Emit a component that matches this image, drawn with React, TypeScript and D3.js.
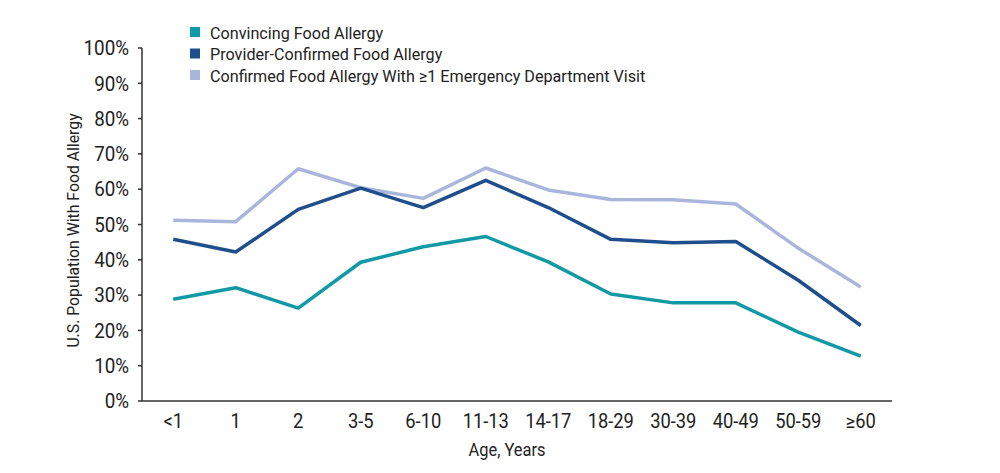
import React from "react";
import * as d3 from "d3";

const ageGroups = ["<1", "1", "2", "3-5", "6-10", "11-13", "14-17", "18-29", "30-39", "40-49", "50-59", "≥60"];

const convincing = [28.8, 32.1, 26.3, 39.3, 43.7, 46.6, 39.4, 30.3, 27.8, 27.8, 19.5, 12.7];
const providerConfirmed = [45.8, 42.2, 54.3, 60.3, 54.8, 62.5, 54.8, 45.8, 44.8, 45.2, 34.2, 21.4];
const withEdVisit = [51.2, 50.8, 65.8, 60.4, 57.4, 66.0, 59.8, 57.1, 57.0, 55.8, 43.3, 32.3];

const seriesNames = [
  "Convincing Food Allergy",
  "Provider-Confirmed Food Allergy",
  "Confirmed Food Allergy With ≥1 Emergency Department Visit",
];
const seriesColors = ["#1199a6", "#1f4e8c", "#aab5dc"];
const yTicks = [0, 10, 20, 30, 40, 50, 60, 70, 80, 90, 100];

const FONT = "Roboto, 'Noto Sans', sans-serif";
const SQUEEZE = 0.94; // fake a condensed face

// text squeezed horizontally around its anchor point
function Txt(props: {
  x: number;
  y: number;
  size: number;
  anchor?: string;
  dy?: string;
  rotate?: number;
  children: React.ReactNode;
}) {
  const { x, y, size, anchor = "start", dy, rotate = 0, children } = props;
  return (
    <g transform={`translate(${x},${y}) rotate(${rotate}) scale(${SQUEEZE},1)`}>
      <text textAnchor={anchor} dy={dy} fontSize={size} fill="#222">
        {children}
      </text>
    </g>
  );
}

export default function App() {
  const width = 1000;
  const height = 473;
  const left = 142;
  const right = 892;
  const top = 48;
  const bottom = 401;

  const x = d3.scalePoint<string>().domain(ageGroups).range([left, right]).padding(0.5);
  const y = d3.scaleLinear().domain([0, 100]).range([bottom, top]);

  const line = d3
    .line<number>()
    .x((_, i) => x(ageGroups[i]) as number)
    .y((d) => y(d));

  const series = [convincing, providerConfirmed, withEdVisit];

  return (
    <div style={{ margin: -8 }}>
      <svg width={width} height={height} style={{ display: "block", background: "#fff" }} fontFamily={FONT}>
        {/* legend */}
        {seriesNames.map((name, i) => (
          <g key={name} transform={`translate(190,${27 + i * 21.5})`}>
            <rect width={10} height={10} fill={seriesColors[i]} />
            <Txt x={20} y={11.5} size={17.2}>
              {name}
            </Txt>
          </g>
        ))}

        {/* y axis */}
        <line x1={left} x2={left} y1={top} y2={bottom} stroke="#333" strokeWidth={1.5} />
        {yTicks.map((t) => (
          <g key={t} transform={`translate(0,${y(t)})`}>
            <line x1={left - 4} x2={left} stroke="#333" strokeWidth={1.5} />
            <Txt x={left - 13} y={0} dy="0.36em" anchor="end" size={20}>
              {t}%
            </Txt>
          </g>
        ))}
        <Txt x={79} y={(top + bottom) / 2 + 6} rotate={-90} anchor="middle" size={16.8}>
          U.S. Population With Food Allergy
        </Txt>

        {/* x axis */}
        <line x1={left} x2={right} y1={bottom} y2={bottom} stroke="#333" strokeWidth={1.5} />
        {ageGroups.map((g) => (
          <Txt key={g} x={x(g) as number} y={428} anchor="middle" size={19.5}>
            {g}
          </Txt>
        ))}
        <Txt x={(left + right) / 2 - 10} y={456} anchor="middle" size={17.5}>
          Age, Years
        </Txt>

        {/* lines */}
        {series
          .slice()
          .reverse()
          .map((s, ri) => {
            const i = series.length - 1 - ri;
            return (
              <path
                key={i}
                d={line(s) || ""}
                fill="none"
                stroke={seriesColors[i]}
                strokeWidth={3.5}
                strokeLinejoin="round"
              />
            );
          })}
      </svg>
    </div>
  );
}
